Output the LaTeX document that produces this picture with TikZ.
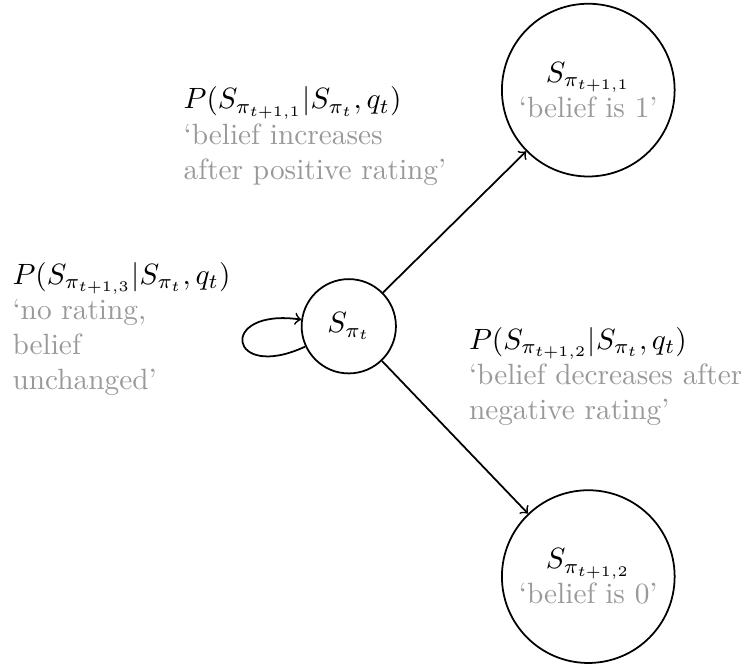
\documentclass[tikz,border=0pt]{standalone}
\begin{document}
\begin{tikzpicture}[>=to, semithick,
    state/.style={circle, draw, align=center, inner sep=1pt},
    note/.style={align=left, anchor=north west, inner sep=0pt},
    faded/.style={text=gray!80}]
    \useasboundingbox (-4.18,-4.06) rectangle (4.70,3.91);

    % states
    \node[state, minimum size=1.13cm] (st) at (0,0) {$S_{\pi_t}$};
    \node[state, minimum size=2.07cm] (up) at (2.87,2.83)
        {$S_{\pi_{t+1,1}}$\\ \textcolor{gray!80}{‘belief is 1’}};
    \node[state, minimum size=2.07cm] (down) at (2.87,-3.0)
        {$S_{\pi_{t+1,2}}$\\ \textcolor{gray!80}{‘belief is 0’}};

    % transitions
    \draw[->] (st) -- (up);
    \draw[->] (st) -- (down);
    \draw[->] (st) to[out=205, in=172, looseness=8] (st);

    % transition labels
    \node[note] (pup) at (-1.99,2.88)
        {$P(S_{\pi_{t+1,1}}|S_{\pi_t},q_t)$\\
         \textcolor{gray!80}{‘belief increases}\\
         \textcolor{gray!80}{after positive rating’}};
    \node[note] (pdown) at (1.43,0.0)
        {$P(S_{\pi_{t+1,2}}|S_{\pi_t},q_t)$\\
         \textcolor{gray!80}{‘belief decreases after}\\
         \textcolor{gray!80}{negative rating’}};
    \node[note] (pstay) at (-4.04,0.78)
        {$P(S_{\pi_{t+1,3}}|S_{\pi_t},q_t)$\\
         \textcolor{gray!80}{‘no rating,}\\
         \textcolor{gray!80}{belief}\\
         \textcolor{gray!80}{unchanged’}};
\end{tikzpicture}
\end{document}
